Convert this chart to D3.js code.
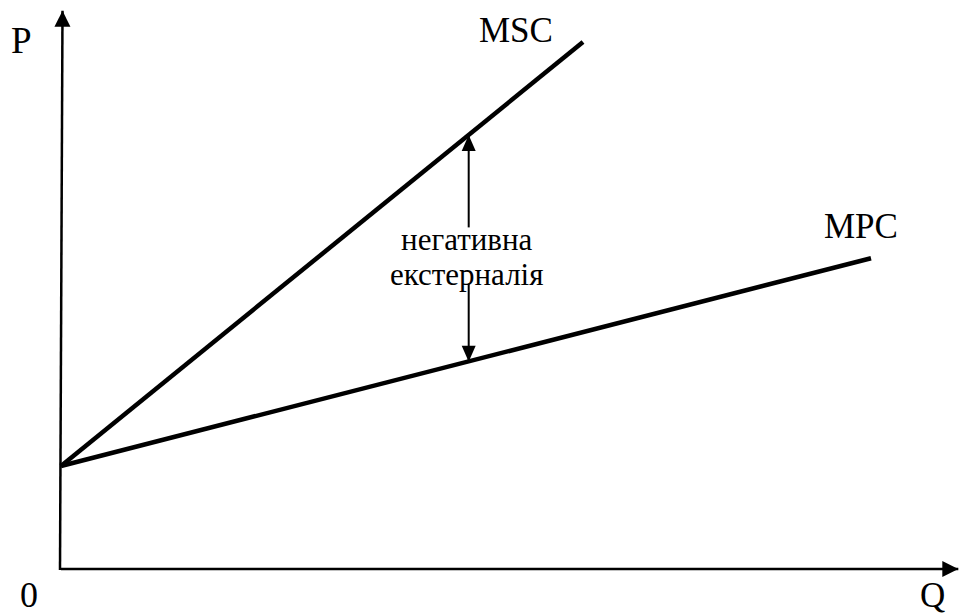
<!DOCTYPE html>
<html>
<head>
<meta charset="utf-8">
<script src="https://cdn.jsdelivr.net/npm/d3@7"></script>
</head>
<body style="margin:0">
<div id="chart"></div>
<script>
// curves: [Q, P] end points in arbitrary units
var mscLine = [[0, 1.84], [5.8, 9.41]];
var mpcLine = [[0, 1.84], [9.0, 5.55]];
var curveLabels = ["MSC", "MPC"];
// externality arrow: Q position, P on MPC, P on MSC, text gap bounds
var extQ = 4.53;
var extLow = 3.7;
var extHigh = 7.75;
var extGap = [6.1, 5.1];
var extText = ["негативна", "екстерналія"];
var axisLen = 9.97;
var axisLabels = ["P", "Q", "0"];

var svgWidth = 960;
var svgHeight = 615;

var svg = d3.select("#chart")
  .append("svg")
  .attr("width", svgWidth)
  .attr("height", svgHeight)
  .style("font-family", "'Liberation Serif'");

var x = d3.scaleLinear().domain([0, 10]).range([61, 961]);
var y = d3.scaleLinear().domain([0, 10]).range([569, 9]);

var line = d3.line()
  .x(d => x(d[0]))
  .y(d => y(d[1]));

// arrowhead helper (tip at x2,y2)
function arrow(x1, y1, x2, y2, len, half, sw) {
  svg.append("line")
    .attr("x1", x1).attr("y1", y1)
    .attr("x2", x2).attr("y2", y2)
    .attr("stroke", "#000")
    .attr("stroke-width", sw);
  var a = Math.atan2(y2 - y1, x2 - x1);
  var bx = x2 - len * Math.cos(a), by = y2 - len * Math.sin(a);
  var px = -Math.sin(a) * half, py = Math.cos(a) * half;
  svg.append("path")
    .attr("d", `M${x2},${y2}L${bx + px},${by + py}L${bx - px},${by - py}Z`)
    .attr("fill", "#000");
}

function label(tx, ty, size, str) {
  return svg.append("text")
    .attr("x", tx).attr("y", ty)
    .style("font-family", "'Liberation Serif'")
    .attr("font-size", size + "px")
    .text(str);
}

// axes
arrow(x(0) - 1, y(0) + 1, x(0) + 1.5, y(axisLen), 16, 8, 2.5);
arrow(x(0), y(0), x(axisLen), y(0), 16, 8, 2.5);

// curves
svg.selectAll(".curve")
  .data([mscLine, mpcLine])
  .enter()
  .append("path")
  .attr("class", "curve")
  .attr("d", line)
  .attr("fill", "none")
  .attr("stroke", "#000")
  .attr("stroke-width", 4.5);

// externality arrows
arrow(x(extQ), y(extGap[0]), x(extQ), y(extHigh), 16, 7, 2);
arrow(x(extQ), y(extGap[1]), x(extQ), y(extLow), 16, 7, 2);

extText.forEach(function(t, i) {
  label(x(extQ) - 2, 250 + i * 35, 31, t).attr("text-anchor", "middle");
});

// labels
label(11, 53, 37, axisLabels[0]);
label(920, 607, 35, axisLabels[1]);
label(20, 607, 36, axisLabels[2]);
label(479, 42, 35, curveLabels[0]);
label(824, 238, 35, curveLabels[1]);
</script>
</body>
</html>
